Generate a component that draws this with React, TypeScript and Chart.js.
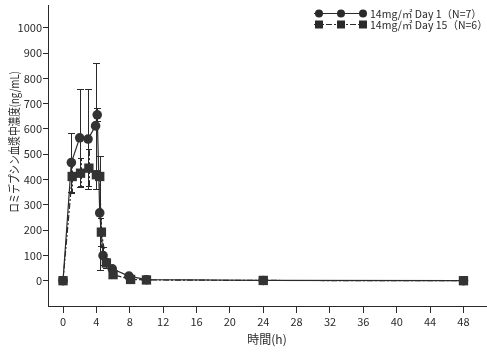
import React, { useEffect, useRef } from "react";
import { Chart, registerables } from "chart.js";

Chart.register(...registerables);

// ---- data ----
const day1Times = [0, 1, 2, 3, 3.9, 4.1, 4.4, 4.8, 5.9, 7.9, 10, 24, 48];
const day1Mean = [0, 467, 565, 560, 612, 656, 268, 99, 47, 18, 4, 1, 0];
const day1ErrUp = [0, 117, 194, 199, 248, 26, 224, 36, 8, 4, 0, 0, 0];
const day1ErrDown = [0, 117, 194, 199, 248, 26, 224, 36, 8, 4, 0, 0, 0];

const day15Times = [0, 1.1, 2.1, 3.1, 4.0, 4.4, 4.6, 5.2, 6.0, 8.1, 10, 24, 48];
const day15Mean = [0, 412, 425, 445, 419, 412, 192, 70, 24, 5, 3, 1, 0];
const day15ErrUp = [0, 65, 60, 77, 0, 0, 56, 20, 6, 0, 0, 0, 0];
const day15ErrDown = [0, 65, 52, 72, 0, 0, 56, 20, 6, 0, 0, 0, 0];

const xTickValues = [0, 4, 8, 12, 16, 20, 24, 28, 32, 36, 40, 44, 48];
const yTickValues = [0, 100, 200, 300, 400, 500, 600, 700, 800, 900, 1000];

const legendLabels = ["14mg/㎡ Day 1（N=7）", "14mg/㎡ Day 15（N=6）"];
const xAxisTitle = "時間(h)";
const yAxisTitle = "ロミデプシン血漿中濃度(ng/mL)";

const FONT = "'Noto Sans CJK JP', 'Liberation Sans', sans-serif";
const INK = "#2a2a2a";
const DASH15 = [6, 2, 2, 2];

const errorSets = [
  { up: day1ErrUp, down: day1ErrDown, dash: [] as number[] },
  { up: day15ErrUp, down: day15ErrDown, dash: DASH15 },
];

const errorBarPlugin = {
  id: "errorBars",
  beforeDatasetsDraw(chart: any) {
    const { ctx } = chart;
    const x = chart.scales.x;
    const y = chart.scales.y;
    chart.data.datasets.forEach((ds: any, i: number) => {
      const e = errorSets[i];
      ctx.save();
      ctx.strokeStyle = INK;
      ctx.lineWidth = 1;
      ctx.setLineDash(e.dash);
      ds.data.forEach((pt: any, j: number) => {
        const px = Math.round(x.getPixelForValue(pt.x)) + 0.5;
        const py = y.getPixelForValue(pt.y);
        const cap = 3.5;
        if (e.up[j] > 0) {
          const t = Math.round(y.getPixelForValue(pt.y + e.up[j])) + 0.5;
          ctx.beginPath();
          ctx.moveTo(px, py);
          ctx.lineTo(px, t);
          ctx.moveTo(px - cap, t);
          ctx.lineTo(px + cap, t);
          ctx.stroke();
        }
        if (e.down[j] > 0) {
          const b = Math.round(y.getPixelForValue(pt.y - e.down[j])) + 0.5;
          ctx.beginPath();
          ctx.moveTo(px, py);
          ctx.lineTo(px, b);
          ctx.moveTo(px - cap, b);
          ctx.lineTo(px + cap, b);
          ctx.stroke();
        }
      });
      ctx.restore();
    });
  },
};

const decorPlugin = {
  id: "decor",
  afterDraw(chart: any) {
    const { ctx } = chart;
    ctx.save();
    // y-axis title
    ctx.fillStyle = INK;
    ctx.font = `12px ${FONT}`;
    ctx.textAlign = "center";
    ctx.textBaseline = "middle";
    ctx.translate(14, 142);
    ctx.rotate(-Math.PI / 2);
    ctx.scale(0.8, 1);
    ctx.fillText(yAxisTitle, 0, 0);
    ctx.restore();

    // legend
    const rows = [
      { y: 13, style: "circle", dash: [] as number[] },
      { y: 24, style: "rect", dash: DASH15 },
    ];
    rows.forEach((r, i) => {
      ctx.save();
      ctx.strokeStyle = INK;
      ctx.fillStyle = INK;
      ctx.lineWidth = 1.2;
      ctx.setLineDash(r.dash);
      ctx.beginPath();
      ctx.moveTo(314, r.y + 0.5);
      ctx.lineTo(366, r.y + 0.5);
      ctx.stroke();
      ctx.setLineDash([]);
      [319, 341, 363].forEach((mx) => {
        ctx.beginPath();
        if (r.style === "circle") {
          ctx.arc(mx, r.y + 0.5, 4, 0, Math.PI * 2);
        } else {
          ctx.rect(mx - 4, r.y + 0.5 - 4, 8, 8);
        }
        ctx.fill();
      });
      ctx.font = `10.5px ${FONT}`;
      ctx.textAlign = "left";
      ctx.textBaseline = "middle";
      ctx.fillText(legendLabels[i], 370, r.y + 1);
      ctx.restore();
    });
  },
};

export default function App() {
  const ref = useRef<HTMLCanvasElement | null>(null);

  useEffect(() => {
    if (!ref.current) return;
    const chart = new Chart(ref.current, {
      type: "line",
      data: {
        datasets: [
          {
            label: legendLabels[0],
            data: day1Times.map((t, i) => ({ x: t, y: day1Mean[i] })),
            borderColor: INK,
            backgroundColor: INK,
            borderWidth: 1.2,
            pointStyle: "circle",
            pointRadius: 4.8,
            pointBackgroundColor: "#333",
            pointBorderColor: "#333",
            pointBorderWidth: 0,
            tension: 0,
            order: 1,
          },
          {
            label: legendLabels[1],
            data: day15Times.map((t, i) => ({ x: t, y: day15Mean[i] })),
            borderColor: INK,
            backgroundColor: INK,
            borderWidth: 1.2,
            borderDash: DASH15,
            pointStyle: "rect",
            pointRadius: 6.6,
            pointBackgroundColor: "#333",
            pointBorderColor: "#333",
            pointBorderWidth: 0,
            tension: 0,
            order: 0,
          },
        ],
      },
      options: {
        animation: false,
        responsive: false,
        maintainAspectRatio: false,
        layout: { autoPadding: false, padding: { left: 0, right: 1, top: 5, bottom: 0 } },
        plugins: {
          legend: { display: false },
          tooltip: { enabled: false },
        },
        scales: {
          x: {
            type: "linear",
            min: -1.8,
            max: 50.7,
            afterFit: (s: any) => {
              s.height = 51;
              s.paddingLeft = 0;
              s.paddingRight = 0;
            },
            afterBuildTicks: (s: any) => {
              s.ticks = xTickValues.map((v) => ({ value: v }));
            },
            grid: {
              display: true,
              drawOnChartArea: false,
              drawTicks: true,
              tickLength: 7,
              color: INK,
            },
            border: { display: true, color: INK, width: 1 },
            ticks: {
              color: INK,
              font: { family: FONT, size: 11 },
              padding: 2,
              maxRotation: 0,
              autoSkip: false,
              callback: (v: any) => String(v),
            },
            title: {
              display: true,
              text: xAxisTitle,
              color: INK,
              font: { family: FONT, size: 12 },
              padding: { top: 0, bottom: 10 },
            },
          },
          y: {
            type: "linear",
            min: -100,
            max: 1090,
            afterFit: (s: any) => {
              s.width = 48;
              s.paddingTop = 0;
              s.paddingBottom = 0;
            },
            afterBuildTicks: (s: any) => {
              s.ticks = yTickValues.map((v) => ({ value: v }));
            },
            grid: {
              display: true,
              drawOnChartArea: false,
              drawTicks: true,
              tickLength: 5,
              color: INK,
            },
            border: { display: true, color: INK, width: 1 },
            ticks: {
              color: INK,
              font: { family: FONT, size: 11 },
              padding: 1,
              autoSkip: false,
              callback: (v: any) => String(v),
            },
          },
        },
      },
      plugins: [errorBarPlugin, decorPlugin],
    });
    return () => chart.destroy();
  }, []);

  return (
    <div style={{ position: "fixed", left: 0, top: 0, width: 487, height: 357, background: "#fff" }}>
      <canvas ref={ref} width={487} height={357} style={{ width: 487, height: 357 }} />
    </div>
  );
}
